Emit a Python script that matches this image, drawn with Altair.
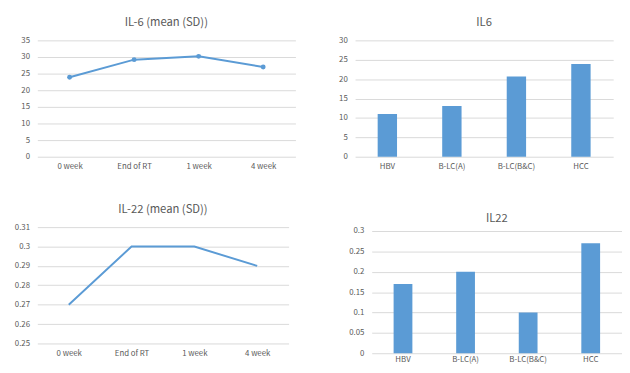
import altair as alt
import pandas as pd

weeks = ["0 week", "End of RT", "1 week", "4 week"]
il6_mean = [23.9, 29.2, 30.2, 27.0]
il22_mean = [0.27, 0.30, 0.30, 0.29]
groups = ["HBV", "B-LC(A)", "B-LC(B&C)", "HCC"]
il6_group = [11.0, 13.1, 20.7, 23.9]
il22_group = [0.17, 0.20, 0.10, 0.27]

BLUE = "#5b9bd5"
TEXT = "#595959"
GRID = "#d9d9d9"
FONT = "Noto Sans CJK KR"


def xaxis(pad=6, ext=18):
    return alt.Axis(title=None, labelAngle=0, ticks=False, domain=False, grid=False,
                    labelFontSize=8, labelColor=TEXT, labelFont=FONT, labelPadding=pad,
                    minExtent=ext, maxExtent=ext)


def yaxis(values, ext):
    return alt.Axis(title=None, values=values, format="~g", ticks=False, domain=False,
                    grid=True, gridColor=GRID, gridWidth=1, labelFontSize=8,
                    labelColor=TEXT, labelFont=FONT, labelPadding=8,
                    minExtent=ext, maxExtent=ext)


def ttl(text, offset):
    return alt.TitleParams(text=text, fontSize=11.5, color=TEXT, font=FONT,
                           fontWeight="normal", offset=offset, anchor="middle")


df1 = pd.DataFrame({"week": weeks, "v": il6_mean})
df3 = pd.DataFrame({"week": weeks, "v": il22_mean})
df2 = pd.DataFrame({"g": groups, "v": il6_group})
df4 = pd.DataFrame({"g": groups, "v": il22_group})

p1 = alt.Chart(df1, title=ttl("IL-6 (mean (SD))", 8)).mark_line(
    color=BLUE, strokeWidth=2,
    point=alt.OverlayMarkDef(size=25, filled=True, color=BLUE)
).encode(
    x=alt.X("week:N", sort=weeks, axis=xaxis()),
    y=alt.Y("v:Q", scale=alt.Scale(domain=[0, 35], nice=False),
            axis=yaxis([0, 5, 10, 15, 20, 25, 30, 35], 24)),
).properties(width=264, height=119)

p2 = alt.Chart(df2, title=ttl("IL6", 8)).mark_bar(color=BLUE).encode(
    x=alt.X("g:N", sort=groups, axis=xaxis(),
            scale=alt.Scale(paddingInner=0.7, paddingOuter=0.35)),
    y=alt.Y("v:Q", scale=alt.Scale(domain=[0, 30], nice=False),
            axis=yaxis([0, 5, 10, 15, 20, 25, 30], 24)),
).properties(width=264, height=119)

p3 = alt.Chart(df3, title=ttl("IL-22 (mean (SD))", 8)).mark_line(
    color=BLUE, strokeWidth=2
).encode(
    x=alt.X("week:N", sort=weeks, axis=xaxis()),
    y=alt.Y("v:Q", scale=alt.Scale(domain=[0.25, 0.31], nice=False, zero=False),
            axis=yaxis([0.25, 0.26, 0.27, 0.28, 0.29, 0.30, 0.31], 30)),
).properties(width=257, height=119)

p4 = alt.Chart(df4, title=ttl("IL22", 3)).mark_bar(color=BLUE).encode(
    x=alt.X("g:N", sort=groups, axis=xaxis(2, 12),
            scale=alt.Scale(paddingInner=0.7, paddingOuter=0.35)),
    y=alt.Y("v:Q", scale=alt.Scale(domain=[0, 0.3096], nice=False),
            axis=yaxis([0, 0.05, 0.1, 0.15, 0.2, 0.25, 0.3], 30)),
).properties(width=256, height=129)

chart = alt.vconcat(
    alt.hconcat(p1, p2, spacing=37),
    alt.hconcat(p3, p4, spacing=55),
    spacing=30,
).properties(padding={"top": 5, "left": 0, "right": 0, "bottom": 0},
             background="white").configure_view(stroke=None)

chart.save("out.html", embed_options={"renderer": "svg", "actions": False})
